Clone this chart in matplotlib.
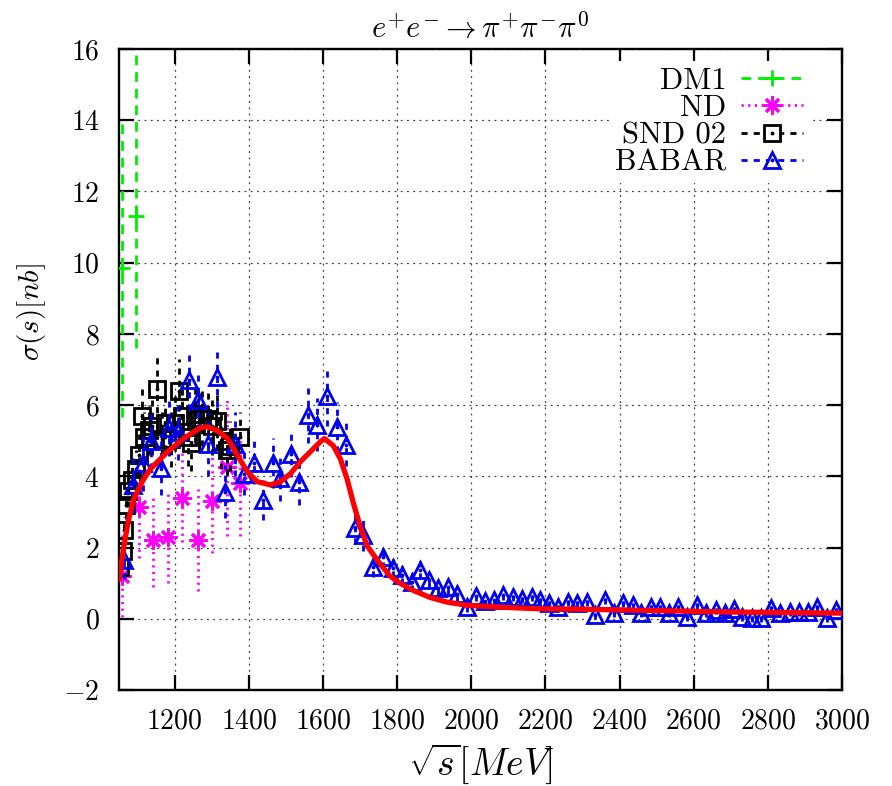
import matplotlib
matplotlib.use('Agg')
import matplotlib.pyplot as plt
from matplotlib.lines import Line2D
from matplotlib.legend_handler import HandlerTuple

plt.rcParams['font.family'] = 'cmr10'
plt.rcParams['mathtext.fontset'] = 'cm'
plt.rcParams['axes.formatter.use_mathtext'] = True

# DM1
dm1_x = [1057, 1097]
dm1_y = [9.86, 11.3]
dm1_lo = [4.2, 3.7]
dm1_hi = [4.2, 5.0]

# ND
nd_x = [1058, 1103, 1141, 1181, 1221, 1262, 1302, 1340, 1377]
nd_y = [1.2, 3.15, 2.2, 2.3, 3.4, 2.22, 3.3, 4.27, 3.82]
nd_err = [1.15, 1.45, 1.3, 1.3, 1.25, 1.43, 1.46, 1.95, 1.49]

# SND 02
snd_x = [1053, 1060, 1063, 1068, 1075, 1085, 1095, 1105, 1111, 1118,
         1130, 1140, 1152, 1165, 1175, 1190, 1200, 1211, 1220, 1235,
         1245, 1255, 1265, 1275, 1290, 1300, 1315, 1325, 1340, 1350, 1375]
snd_y = [1.45, 1.9, 2.5, 3.2, 3.6, 3.9, 4.2, 4.6, 5.7, 5.1,
         5.3, 5.4, 6.45, 5.05, 5.5, 5.05, 5.5, 6.4, 5.7, 5.1,
         4.95, 5.75, 5.6, 5.65, 5.6, 5.4, 5.55, 5.0, 4.75, 4.85, 5.1]
snd_err = [0.3, 0.3, 0.35, 0.4, 0.45, 0.5, 0.55, 0.6, 0.8, 0.7,
           0.7, 0.8, 1.0, 0.8, 0.8, 0.8, 0.8, 0.9, 0.8, 0.8,
           0.8, 0.8, 0.8, 0.8, 0.8, 0.8, 0.8, 0.8, 0.7, 0.7, 0.7]

# BABAR
babar_x = [1063, 1087, 1114, 1135, 1162, 1184, 1208, 1238, 1262, 1289,
           1313, 1337, 1364, 1386, 1413, 1439, 1464, 1485, 1515, 1536,
           1561, 1585, 1612, 1639, 1663, 1687, 1709, 1735, 1762, 1789,
           1813, 1840, 1862, 1886, 1910, 1937, 1961, 1988, 2012, 2037,
           2061, 2085, 2112, 2136, 2163, 2185, 2211, 2233, 2260, 2284,
           2311, 2333, 2360, 2384, 2408, 2435, 2459, 2486, 2510, 2534,
           2558, 2583, 2610, 2634, 2661, 2685, 2709, 2731, 2758, 2782,
           2809, 2833, 2860, 2884, 2908, 2932, 2959, 2983]
babar_y = [1.66, 3.76, 4.38, 5.0, 4.24, 5.37, 5.25, 6.71, 6.15, 4.92,
           6.8, 3.57, 4.92, 4.07, 4.38, 3.34, 4.38, 3.96, 4.63, 3.85,
           5.73, 5.45, 6.26, 5.39, 4.89, 2.56, 2.36, 1.46, 1.74, 1.43,
           1.24, 1.04, 1.38, 1.1, 0.87, 0.9, 0.7, 0.34, 0.65, 0.51,
           0.53, 0.67, 0.62, 0.56, 0.62, 0.53, 0.45, 0.34, 0.48, 0.45,
           0.48, 0.11, 0.53, 0.17, 0.45, 0.39, 0.17, 0.34, 0.34, 0.17,
           0.34, 0.06, 0.39, 0.17, 0.25, 0.17, 0.28, 0.06, 0.03, 0.03,
           0.31, 0.17, 0.2, 0.2, 0.2, 0.34, 0.03, 0.25]
babar_err = [0.55, 0.8, 0.8, 0.8, 0.75, 0.8, 0.8, 0.85, 0.85, 0.9,
             0.85, 0.75, 0.9, 0.6, 0.6, 0.56, 0.7, 0.65, 0.65, 0.65,
             0.8, 0.75, 0.85, 0.7, 0.6, 0.45, 0.45, 0.3, 0.3, 0.25,
             0.25, 0.25, 0.25, 0.2, 0.2, 0.2, 0.2, 0.15, 0.15, 0.15,
             0.15, 0.15, 0.12, 0.12, 0.12, 0.12, 0.12, 0.12, 0.12, 0.12,
             0.12, 0.12, 0.12, 0.12, 0.12, 0.12, 0.12, 0.12, 0.12, 0.12,
             0.12, 0.12, 0.12, 0.12, 0.12, 0.12, 0.12, 0.12, 0.12, 0.12,
             0.12, 0.12, 0.12, 0.12, 0.12, 0.12, 0.12, 0.12]

# fitted cross section
fit_x = [1050, 1063, 1076, 1090, 1114, 1135, 1181, 1224, 1270, 1289,
         1316, 1343, 1370, 1396, 1423, 1458, 1485, 1512, 1539, 1566,
         1593, 1604, 1628, 1647, 1665, 1681, 1700, 1719, 1750, 1781,
         1808, 1843, 1889, 1934, 1988, 2069, 2185, 2300, 2400, 2500,
         2600, 2700, 2800, 2900, 3000]
fit_y = [1.1, 2.03, 2.79, 3.37, 3.88, 4.21, 4.69, 5.06, 5.37, 5.39,
         5.28, 5.06, 4.58, 4.13, 3.85, 3.76, 3.85, 4.07, 4.41, 4.69,
         4.97, 5.06, 4.86, 4.49, 3.93, 3.29, 2.61, 2.05, 1.6, 1.2,
         1.0, 0.8, 0.6, 0.47, 0.38, 0.33, 0.28, 0.27, 0.25, 0.23,
         0.21, 0.19, 0.18, 0.17, 0.16]

x_ticks = list(range(1200, 3001, 200))
y_ticks = list(range(-2, 17, 2))

GREEN = '#00ee00'
MAGENTA = '#ff00ff'
BLUE = '#0000ee'
DASH = (0, (2.2, 2.2))
DOTS = (0, (0.8, 1.6))
LONG_DASH = (0, (3.5, 2.5))


def draw_set(ax, x, y, err, color, marker, ms, bar_dash, z):
    eb = ax.errorbar(x, y, yerr=err, fmt='none', ecolor=color, elinewidth=2.0,
                     capsize=0, zorder=z)
    eb[2][0].set_linestyle(bar_dash)
    ax.plot(x, y, linestyle='none', marker=marker, ms=ms, mfc='none',
            mec=color, mew=2.0, zorder=z + 0.1)


fig = plt.figure(figsize=(8.92, 7.86), dpi=100)
ax = fig.add_axes([0.1334, 0.1221, 0.8106, 0.8156])

# DM1 has asymmetric errors
eb = ax.errorbar(dm1_x, dm1_y, yerr=[dm1_lo, dm1_hi], fmt='none', ecolor=GREEN,
                 elinewidth=2.0, capsize=0, zorder=3)
eb[2][0].set_linestyle(LONG_DASH)
ax.plot(dm1_x, dm1_y, linestyle='none', marker='+', ms=12, mec=GREEN,
        mew=2.0, zorder=3.1)

draw_set(ax, nd_x, nd_y, nd_err, MAGENTA, (8, 2, 0), 13, DOTS, 4)
draw_set(ax, snd_x, snd_y, snd_err, 'black', 's', 11, DASH, 5)
ax.plot(snd_x, snd_y, linestyle='none', marker='.', ms=3.5, color='black', zorder=5.2)
draw_set(ax, babar_x, babar_y, babar_err, BLUE, '^', 11, DASH, 6)
ax.plot(babar_x, babar_y, linestyle='none', marker='.', ms=3.5, color=BLUE, zorder=6.2)

ax.plot(fit_x, fit_y, color='red', lw=3.8, zorder=8, solid_capstyle='round')

ax.set_xlim(1050, 3000)
ax.set_ylim(-2, 16)
ax.set_xticks(x_ticks)
ax.set_yticks(y_ticks)
ax.tick_params(direction='in', length=11, width=1.6, top=True, right=True,
               labelsize=20)
ax.tick_params(axis='x', pad=13)
ax.tick_params(axis='y', pad=14)
for sp in ax.spines.values():
    sp.set_linewidth(1.7)
ax.grid(True, color='0.25', linestyle=(0, (1.5, 3.5)), linewidth=0.9, zorder=0)
ax.set_axisbelow(True)

ax.set_title(r'$e^{+}e^{-} \rightarrow \pi^{+}\pi^{-}\pi^{0}$', fontsize=22, pad=8)
ax.set_xlabel(r'$\sqrt{s}[MeV]$', fontsize=27)
ax.xaxis.set_label_coords(0.5, -0.08)
ax.set_ylabel(r'$\sigma(s)[nb]$', fontsize=21)
ax.yaxis.set_label_coords(-0.098, 0.59)

handles = [
    Line2D([], [], color=GREEN, ls=LONG_DASH, lw=2.0, marker='+', ms=12, mew=2.0),
    Line2D([], [], color=MAGENTA, ls=DOTS, lw=2.0, marker=(8, 2, 0), ms=13, mew=2.0),
    (Line2D([], [], color='black', ls=DASH, lw=2.0, marker='s', ms=11,
            mfc='white', mew=2.0),
     Line2D([], [], ls='none', marker='.', ms=3.5, color='black')),
    (Line2D([], [], color=BLUE, ls=DASH, lw=2.0, marker='^', ms=11,
            mfc='white', mew=2.0),
     Line2D([], [], ls='none', marker='.', ms=3.5, color=BLUE)),
]
labels = ['DM1', 'ND', 'SND 02', 'BABAR']
leg = ax.legend(handles, labels, loc='upper right', bbox_to_anchor=(0.975, 1.005),
                markerfirst=False, fontsize=22, labelspacing=0.0, handlelength=2.0,
                handletextpad=0.5, borderpad=0.2, frameon=True, fancybox=False,
                edgecolor='none', facecolor='white', framealpha=1, numpoints=1,
                handler_map={tuple: HandlerTuple(ndivide=1)})
leg.set_zorder(10)

fig.savefig('out.png', dpi=100)
